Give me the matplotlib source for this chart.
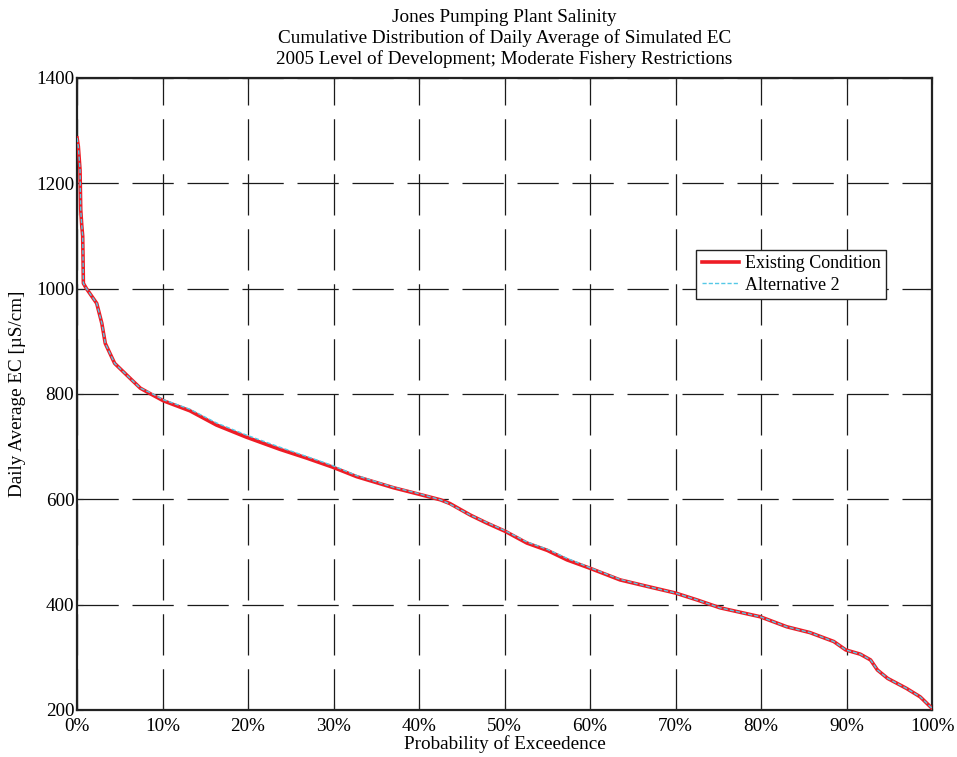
import matplotlib
matplotlib.use("Agg")
import matplotlib.pyplot as plt
from matplotlib.ticker import FixedLocator

plt.rcParams['font.family'] = ['Liberation Serif', 'DejaVu Serif']

title_lines = ["Jones Pumping Plant Salinity",
               "Cumulative Distribution of Daily Average of Simulated EC",
               "2005 Level of Development; Moderate Fishery Restrictions"]
x_label = "Probability of Exceedence"
y_label = "Daily Average EC [µS/cm]"
series_names = ["Existing Condition", "Alternative 2"]

prob_existing = [0.000, 0.0015, 0.0035, 0.0043, 0.0055, 0.0066, 0.0070, 0.0074,
                 0.011, 0.023, 0.029, 0.033, 0.044, 0.058, 0.074, 0.085,
                 0.101, 0.132, 0.163, 0.198, 0.237, 0.269, 0.299, 0.327,
                 0.370, 0.399, 0.425, 0.436, 0.460, 0.479, 0.501, 0.526,
                 0.550, 0.573, 0.600, 0.635, 0.666, 0.700, 0.725, 0.752,
                 0.799, 0.830, 0.857, 0.885, 0.899, 0.916, 0.928, 0.936,
                 0.948, 0.970, 0.986, 1.000]
ec_existing = [1286, 1270, 1225, 1150, 1120, 1100, 1060, 1010,
               1000, 972, 934, 896, 858, 836, 811, 801,
               787, 768, 741, 718, 695, 678, 661, 643,
               622, 610, 599, 592, 570, 555, 539, 517,
               503, 485, 469, 447, 435, 422, 409, 394,
               377, 358, 347, 330, 314, 306, 295, 276,
               260, 241, 225, 203]

prob_alt2 = prob_existing
ec_alt2 = [1286, 1270, 1225, 1150, 1120, 1100, 1060, 1010,
           1000, 972, 934, 896, 858, 836, 811, 803,
           789, 771, 745, 722, 699, 681, 664, 645,
           623, 611, 599, 591, 570, 556, 540, 519,
           505, 488, 470, 448, 435, 422, 409, 394,
           377, 358, 347, 330, 314, 306, 295, 276,
           260, 241, 225, 203]

x_ticks = [i / 10 for i in range(11)]
x_tick_labels = [f"{i*10}%" for i in range(11)]
y_ticks = [200, 400, 600, 800, 1000, 1200, 1400]

FS = 13.8

fig = plt.figure(figsize=(9.57, 7.57), dpi=100)
ax = fig.add_axes([0.0805, 0.0621, 0.8935, 0.835])

ax.plot(prob_existing, ec_existing, color='#ee1c25', lw=2.6,
        label=series_names[0], zorder=3)
ax.plot(prob_alt2, ec_alt2, color='#55c8e6', lw=1.0, ls=(0, (3, 1.5)),
        label=series_names[1], zorder=4)

ax.set_xlim(0, 1)
ax.set_ylim(200, 1400)
ax.xaxis.set_major_locator(FixedLocator(x_ticks))
ax.set_xticklabels(x_tick_labels)
ax.yaxis.set_major_locator(FixedLocator(y_ticks))

ax.grid(True, color='#1a1a1a', lw=0.9, ls=(0, (33, 11)))
ax.set_axisbelow(True)
ax.tick_params(direction='in', length=4, labelsize=FS, top=True, right=True,
               color='#222222')
ax.tick_params(axis='x', pad=5.5)
ax.tick_params(axis='y', pad=2)
for s in ax.spines.values():
    s.set_linewidth(1.6)
    s.set_color('#222222')

ax.set_xlabel(x_label, fontsize=FS, labelpad=0)
ax.set_ylabel(y_label, fontsize=FS, labelpad=7)
ax.set_title("\n".join(title_lines), fontsize=FS, linespacing=1.22, pad=10)

leg = ax.legend(loc='upper left', bbox_to_anchor=(0.724, 0.728), fontsize=13.0,
                frameon=True, fancybox=False, framealpha=1, edgecolor='#222222',
                borderpad=0.3, handlelength=2.1, handletextpad=0.3,
                labelspacing=0.25, borderaxespad=0)
leg.get_frame().set_linewidth(1.0)

fig.savefig("out.png", dpi=100)
